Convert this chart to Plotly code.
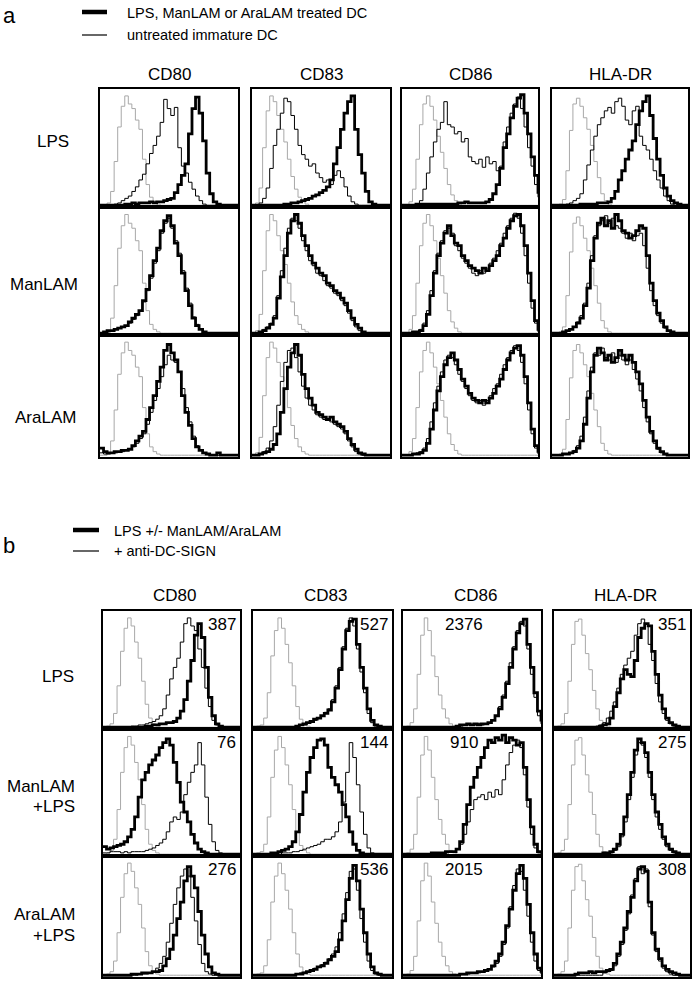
import plotly.graph_objects as go

W, H = 695, 984
NB = 40  # fluorescence channel bins (log scale)


def pad(v):
    return list(v) + [0] * (NB - len(v))


MARKERS = ["CD80", "CD83", "CD86", "HLA-DR"]
ROWS_A = ["LPS", "ManLAM", "AraLAM"]
ROWS_B = [["LPS"], ["ManLAM", "+LPS"], ["AraLAM", "+LPS"]]
NUMS_B = [["387", "527", "2376", "351"],
          ["76", "144", "910", "275"],
          ["276", "536", "2015", "308"]]
LEGEND_A = ["LPS, ManLAM or AraLAM treated DC", "untreated immature DC"]
LEGEND_B = ["LPS +/- ManLAM/AraLAM", "+ anti-DC-SIGN"]

# ---------------- panel a : isotype controls (grey) ----------------
A_G_CD80 = [0, 0, 2, 12, 38, 68, 86, 95, 88, 84, 74, 66, 40, 18, 7, 3, 1]
A_G_CD83 = [0, 2, 15, 50, 82, 95, 90, 78, 66, 55, 40, 25, 14, 7, 3, 1]
A_G_CD86 = [0, 0, 3, 14, 40, 70, 88, 95, 86, 74, 60, 46, 32, 18, 9, 4, 1]
A_G_HLA = [0, 0, 1, 5, 30, 65, 88, 93, 86, 76, 66, 52, 38, 24, 10, 4, 1]

# panel a, LPS row
A_LPS_CD80_thin = [0, 0, 0, 0, 1, 2, 4, 6, 8, 12, 16, 22, 27, 36, 45, 52, 60, 72, 92, 84, 78, 85, 50, 34, 28, 20, 14, 8, 4, 1]
A_LPS_CD80_thick = [0, 0, 0, 0, 0, 0, 0, 1, 1, 2, 1, 2, 2, 2, 3, 2, 3, 3, 4, 5, 6, 11, 18, 26, 36, 62, 84, 94, 80, 56, 28, 10, 3, 1]
A_LPS_CD83_thin = [0, 0, 2, 6, 15, 32, 52, 66, 80, 93, 90, 78, 66, 52, 44, 40, 34, 36, 28, 24, 20, 22, 18, 26, 30, 24, 16, 8, 3, 1]
A_LPS_CD83_thick = [0, 0, 0, 0, 0, 0, 0, 0, 0, 1, 1, 2, 2, 3, 4, 5, 6, 8, 9, 11, 13, 16, 22, 36, 50, 66, 80, 90, 95, 66, 44, 28, 12, 3, 1]
A_LPS_CD86_thin = [0, 0, 0, 0, 1, 4, 14, 28, 42, 55, 66, 72, 90, 70, 68, 62, 64, 55, 58, 42, 38, 36, 40, 33, 42, 36, 38, 30, 34, 55, 68, 80, 88, 94, 84, 68, 50, 34, 18, 7]
A_LPS_CD86_thick = [0, 0, 0, 0, 1, 1, 1, 1, 1, 1, 1, 1, 1, 1, 1, 1, 2, 2, 3, 2, 2, 2, 2, 2, 3, 5, 10, 18, 32, 50, 62, 76, 86, 93, 96, 80, 62, 42, 26, 10]
A_LPS_HLA_thin = [0, 0, 0, 0, 1, 2, 4, 6, 10, 22, 35, 48, 60, 70, 76, 82, 85, 80, 90, 93, 86, 74, 70, 82, 86, 60, 52, 48, 40, 30, 22, 15, 8, 4, 1]
A_LPS_HLA_thick = [0, 0, 0, 0, 0, 0, 0, 0, 1, 1, 1, 1, 1, 2, 2, 2, 3, 6, 12, 22, 30, 40, 48, 56, 70, 82, 90, 95, 78, 58, 40, 26, 15, 8, 4, 2, 1]

# panel a, ManLAM row
A_MAN_CD80_thin = [0, 0, 1, 2, 3, 4, 5, 6, 8, 11, 14, 18, 25, 34, 44, 56, 66, 80, 88, 92, 84, 74, 64, 50, 36, 24, 13, 7, 3, 1]
A_MAN_CD80_thick = [0, 1, 2, 2, 3, 4, 5, 6, 9, 12, 15, 18, 26, 35, 46, 58, 68, 82, 90, 94, 86, 72, 62, 48, 34, 22, 12, 6, 3, 1]
A_MAN_CD83_thin = [0, 0, 1, 3, 5, 8, 14, 30, 50, 68, 84, 92, 90, 84, 74, 66, 58, 54, 48, 46, 42, 38, 36, 32, 30, 26, 22, 16, 10, 5, 2, 1]
A_MAN_CD83_thick = [0, 0, 1, 2, 4, 7, 12, 28, 45, 62, 80, 90, 95, 88, 78, 70, 62, 56, 52, 48, 46, 40, 38, 34, 32, 28, 24, 18, 12, 7, 4, 1]
A_MAN_CD86_thin = [0, 0, 0, 1, 1, 3, 8, 18, 34, 50, 64, 74, 82, 84, 80, 70, 66, 60, 56, 52, 48, 46, 50, 48, 52, 56, 60, 66, 72, 80, 86, 92, 96, 92, 80, 62, 40, 20, 8, 1]
A_MAN_CD86_thick = [0, 0, 0, 1, 1, 2, 6, 15, 30, 48, 62, 72, 80, 86, 78, 72, 70, 62, 58, 54, 52, 50, 48, 52, 50, 54, 58, 62, 70, 76, 84, 90, 94, 95, 86, 70, 48, 26, 10, 2]
A_MAN_HLA_thin = [0, 0, 0, 1, 2, 3, 5, 9, 14, 24, 40, 62, 78, 86, 90, 94, 88, 92, 86, 84, 80, 76, 80, 74, 78, 80, 70, 52, 34, 22, 14, 8, 4, 2, 1]
A_MAN_HLA_thick = [0, 0, 0, 1, 2, 3, 5, 8, 12, 22, 36, 58, 76, 88, 92, 86, 90, 84, 95, 90, 82, 80, 76, 78, 82, 86, 84, 62, 40, 26, 16, 10, 5, 2, 1]

# panel a, AraLAM row
A_ARA_CD80_thin = [2, 1, 1, 2, 2, 3, 3, 4, 5, 7, 10, 14, 18, 26, 36, 46, 56, 66, 76, 84, 80, 78, 70, 56, 40, 28, 16, 8, 4, 2, 1]
A_ARA_CD80_thick = [6, 3, 2, 2, 3, 3, 4, 4, 5, 8, 12, 16, 20, 30, 40, 50, 62, 74, 88, 93, 86, 80, 70, 50, 36, 25, 14, 7, 4, 2, 1, 0, 0, 2]
A_ARA_CD83_thin = [0, 0, 1, 3, 6, 12, 24, 42, 62, 78, 88, 90, 82, 70, 58, 48, 42, 38, 34, 32, 30, 30, 28, 26, 24, 22, 18, 12, 7, 3, 1]
A_ARA_CD83_thick = [0, 0, 1, 2, 3, 5, 9, 18, 36, 56, 74, 86, 93, 84, 68, 56, 48, 42, 36, 34, 32, 30, 32, 28, 26, 24, 20, 14, 9, 5, 2, 1]
A_ARA_CD86_thin = [0, 0, 0, 1, 2, 3, 6, 14, 28, 44, 58, 70, 80, 84, 82, 76, 68, 62, 56, 50, 46, 44, 46, 42, 46, 50, 56, 60, 68, 76, 82, 88, 92, 88, 78, 60, 38, 18, 6, 1]
A_ARA_CD86_thick = [0, 0, 0, 1, 1, 2, 4, 10, 22, 38, 54, 66, 76, 82, 86, 80, 72, 64, 58, 52, 48, 46, 44, 46, 44, 48, 52, 58, 64, 72, 80, 86, 90, 92, 84, 66, 44, 22, 8, 2]
A_ARA_HLA_thin = [0, 0, 0, 1, 1, 2, 4, 8, 16, 32, 54, 74, 86, 84, 90, 82, 80, 86, 78, 84, 80, 76, 80, 72, 64, 54, 40, 28, 18, 10, 5, 2, 1]
A_ARA_HLA_thick = [0, 0, 0, 1, 1, 2, 3, 6, 12, 26, 48, 70, 84, 90, 86, 80, 84, 78, 82, 88, 84, 80, 84, 78, 70, 60, 46, 32, 20, 12, 6, 3, 1]

# ---------------- panel b : isotype controls (grey) ----------------
B_G_CD80 = [0, 1, 3, 12, 36, 66, 86, 95, 88, 74, 60, 40, 20, 8, 3, 1]
B_G_CD83 = [0, 1, 2, 8, 30, 62, 84, 95, 86, 72, 56, 36, 18, 7, 3, 1]
B_G_CD86 = [0, 1, 4, 16, 46, 80, 95, 84, 62, 44, 28, 16, 8, 3, 1]
B_G_HLA = [0, 1, 3, 12, 40, 72, 92, 94, 80, 64, 50, 32, 16, 6, 2, 1]

# panel b, LPS row
B_LPS_CD80_thin = [0, 0, 0, 0, 0, 0, 0, 0, 1, 1, 2, 2, 3, 4, 5, 7, 10, 16, 28, 42, 52, 60, 74, 90, 95, 88, 84, 68, 52, 34, 18, 6, 2, 1]
B_LPS_CD80_thick = [0, 0, 0, 0, 0, 0, 0, 0, 0, 0, 0, 0, 1, 1, 2, 2, 3, 3, 4, 4, 5, 8, 14, 24, 40, 58, 80, 90, 78, 52, 26, 10, 3, 1]
B_LPS_CD83_thin = [0, 0, 0, 0, 0, 0, 0, 0, 0, 0, 0, 0, 1, 2, 2, 4, 5, 6, 8, 10, 13, 16, 24, 36, 52, 70, 86, 95, 88, 68, 48, 30, 12, 4, 1]
B_LPS_CD83_thick = [0, 0, 0, 0, 0, 0, 0, 0, 0, 0, 0, 0, 1, 2, 3, 4, 5, 7, 8, 10, 12, 15, 22, 34, 50, 68, 84, 92, 94, 72, 52, 34, 16, 6, 2, 1]
B_LPS_CD86_thin = [0, 0, 0, 0, 0, 0, 0, 0, 0, 0, 0, 0, 0, 0, 0, 1, 1, 2, 2, 2, 2, 3, 2, 3, 4, 6, 10, 18, 28, 40, 56, 70, 84, 92, 88, 68, 46, 26, 10, 3]
B_LPS_CD86_thick = [0, 0, 0, 0, 0, 0, 0, 0, 0, 0, 0, 0, 0, 0, 0, 1, 2, 2, 3, 2, 3, 2, 3, 3, 4, 6, 10, 16, 26, 38, 52, 68, 82, 90, 94, 72, 52, 30, 14, 5]
B_LPS_HLA_thin = [0, 0, 0, 0, 0, 0, 0, 0, 0, 0, 0, 0, 1, 2, 4, 8, 14, 22, 34, 46, 54, 60, 66, 80, 90, 94, 90, 72, 58, 38, 22, 12, 6, 3, 1]
B_LPS_HLA_thick = [0, 0, 0, 0, 0, 0, 0, 0, 0, 0, 0, 0, 0, 1, 2, 3, 8, 18, 30, 42, 50, 46, 44, 58, 78, 86, 90, 88, 66, 46, 28, 16, 8, 4, 2, 1]

# panel b, ManLAM + LPS row
B_MAN_CD80_thin = [1, 1, 2, 2, 2, 1, 2, 1, 2, 2, 2, 2, 3, 4, 5, 7, 9, 12, 18, 26, 30, 28, 34, 48, 58, 66, 72, 90, 72, 46, 24, 10, 3, 1]
B_MAN_CD80_thick = [6, 4, 5, 6, 7, 8, 10, 14, 20, 30, 46, 60, 66, 72, 76, 80, 86, 90, 93, 88, 74, 58, 42, 34, 26, 16, 9, 4, 2, 1]
B_MAN_CD83_thin = [0, 0, 0, 0, 0, 0, 0, 0, 1, 1, 1, 2, 2, 3, 4, 5, 6, 7, 8, 10, 12, 12, 14, 18, 26, 42, 66, 90, 78, 56, 34, 16, 5, 1]
B_MAN_CD83_thick = [0, 0, 0, 0, 0, 1, 1, 2, 3, 4, 6, 10, 18, 32, 50, 66, 78, 86, 92, 93, 88, 70, 62, 56, 50, 40, 30, 18, 8, 3, 1]
B_MAN_CD86_thin = [0, 0, 0, 0, 0, 0, 0, 0, 0, 0, 0, 1, 1, 2, 2, 4, 8, 16, 26, 36, 44, 46, 48, 44, 50, 46, 52, 48, 60, 72, 82, 88, 92, 86, 64, 38, 16, 5, 1, 0]
B_MAN_CD86_thick = [0, 0, 0, 0, 0, 0, 0, 0, 1, 1, 1, 1, 2, 2, 2, 4, 10, 24, 40, 54, 62, 70, 78, 86, 92, 90, 94, 92, 96, 90, 94, 92, 88, 90, 70, 44, 22, 8, 2, 1]
B_MAN_HLA_thin = [0, 0, 0, 0, 0, 0, 0, 0, 0, 0, 0, 0, 0, 0, 0, 0, 1, 3, 6, 14, 26, 44, 62, 80, 90, 88, 78, 62, 44, 30, 20, 12, 6, 3, 1]
B_MAN_HLA_thick = [0, 0, 0, 0, 0, 0, 0, 0, 0, 0, 0, 0, 0, 0, 1, 1, 2, 4, 8, 16, 30, 48, 66, 84, 93, 90, 82, 66, 48, 34, 24, 14, 8, 4, 2, 1]

# panel b, AraLAM + LPS row
B_ARA_CD80_thin = [0, 0, 0, 0, 0, 0, 0, 0, 0, 0, 1, 1, 1, 2, 3, 6, 10, 16, 28, 44, 60, 74, 84, 90, 84, 66, 46, 26, 10, 3, 1]
B_ARA_CD80_thick = [0, 0, 0, 0, 0, 0, 0, 0, 1, 1, 1, 2, 2, 2, 3, 3, 4, 8, 14, 22, 34, 48, 62, 80, 92, 84, 74, 54, 34, 18, 7, 2, 1]
B_ARA_CD83_thin = [0, 0, 0, 0, 0, 0, 0, 0, 0, 0, 0, 0, 1, 2, 2, 3, 4, 6, 7, 9, 11, 14, 18, 24, 36, 52, 70, 88, 90, 72, 48, 28, 12, 4, 1]
B_ARA_CD83_thick = [0, 0, 0, 0, 0, 0, 0, 0, 0, 0, 0, 0, 1, 1, 2, 3, 4, 5, 7, 8, 10, 13, 16, 20, 30, 46, 64, 82, 93, 80, 56, 36, 18, 7, 2, 1]
B_ARA_CD86_thin = [0, 0, 0, 0, 0, 0, 0, 0, 0, 0, 0, 0, 0, 0, 0, 0, 1, 1, 1, 2, 2, 2, 3, 4, 5, 7, 10, 16, 26, 40, 58, 76, 90, 88, 72, 50, 28, 12, 4, 1]
B_ARA_CD86_thick = [0, 0, 0, 0, 0, 0, 0, 0, 0, 0, 0, 0, 0, 0, 0, 0, 1, 1, 2, 2, 2, 3, 3, 4, 5, 8, 12, 18, 28, 42, 56, 72, 86, 93, 82, 60, 36, 18, 6, 2]
B_ARA_HLA_thin = [0, 0, 0, 0, 0, 0, 0, 0, 0, 0, 0, 0, 0, 0, 2, 3, 4, 8, 16, 26, 38, 52, 68, 82, 92, 86, 90, 58, 34, 20, 12, 6, 3, 1]
B_ARA_HLA_thick = [0, 0, 0, 0, 0, 0, 1, 2, 2, 2, 3, 2, 3, 3, 3, 4, 5, 10, 18, 28, 40, 54, 66, 80, 90, 92, 88, 62, 36, 22, 14, 8, 5, 3, 2, 1]

A_GRAY = [A_G_CD80, A_G_CD83, A_G_CD86, A_G_HLA]
A_THIN = [[A_LPS_CD80_thin, A_LPS_CD83_thin, A_LPS_CD86_thin, A_LPS_HLA_thin],
          [A_MAN_CD80_thin, A_MAN_CD83_thin, A_MAN_CD86_thin, A_MAN_HLA_thin],
          [A_ARA_CD80_thin, A_ARA_CD83_thin, A_ARA_CD86_thin, A_ARA_HLA_thin]]
A_THICK = [[A_LPS_CD80_thick, A_LPS_CD83_thick, A_LPS_CD86_thick, A_LPS_HLA_thick],
           [A_MAN_CD80_thick, A_MAN_CD83_thick, A_MAN_CD86_thick, A_MAN_HLA_thick],
           [A_ARA_CD80_thick, A_ARA_CD83_thick, A_ARA_CD86_thick, A_ARA_HLA_thick]]
B_GRAY = [B_G_CD80, B_G_CD83, B_G_CD86, B_G_HLA]
B_THIN = [[B_LPS_CD80_thin, B_LPS_CD83_thin, B_LPS_CD86_thin, B_LPS_HLA_thin],
          [B_MAN_CD80_thin, B_MAN_CD83_thin, B_MAN_CD86_thin, B_MAN_HLA_thin],
          [B_ARA_CD80_thin, B_ARA_CD83_thin, B_ARA_CD86_thin, B_ARA_HLA_thin]]
B_THICK = [[B_LPS_CD80_thick, B_LPS_CD83_thick, B_LPS_CD86_thick, B_LPS_HLA_thick],
           [B_MAN_CD80_thick, B_MAN_CD83_thick, B_MAN_CD86_thick, B_MAN_HLA_thick],
           [B_ARA_CD80_thick, B_ARA_CD83_thick, B_ARA_CD86_thick, B_ARA_HLA_thick]]

# ---------------- layout geometry (pixels) ----------------
COLS_A = [(100, 238), (252, 390), (402, 538), (552, 688)]
ROWS_A_PX = [(89, 207), (207, 335), (335, 457)]
COLS_B = [(103, 240), (253, 392), (403, 541), (554, 690)]
ROWS_B_PX = [(611, 729), (729, 856), (856, 977)]

FONT = "Liberation Sans, Arial, Helvetica, sans-serif"
GREY = "#a8a8a8"

fig = go.Figure()
layout = {}
annotations = []
shapes = []
X = list(range(NB))
k = 0


def px_x(x):
    return x / W


def px_y(y):
    return 1 - y / H


def add_panel(cols, rows, gray, thin, thick, nums=None):
    global k
    for r, (y0, y1) in enumerate(rows):
        for c, (x0, x1) in enumerate(cols):
            k += 1
            xa = "x" if k == 1 else f"x{k}"
            ya = "y" if k == 1 else f"y{k}"
            for vals, color, width in ((gray[c], GREY, 1.0),
                                       (thin[r][c], "black", 1.0),
                                       (thick[r][c], "black", 2.8)):
                fig.add_trace(go.Scatter(
                    x=X, y=pad(vals), mode="lines",
                    line=dict(color=color, width=width, shape="hv"),
                    xaxis=xa, yaxis=ya, hoverinfo="skip", showlegend=False))
            ax = dict(domain=[px_x(x0), px_x(x1)], range=[0, NB - 1],
                      showline=True, mirror=True, linecolor="black", linewidth=1.5,
                      showgrid=False, zeroline=False, showticklabels=False, ticks="",
                      fixedrange=True)
            ay = dict(domain=[px_y(y1), px_y(y0)], range=[-1.5, 101],
                      showline=True, mirror=True, linecolor="black", linewidth=1.5,
                      showgrid=False, zeroline=False, showticklabels=False, ticks="",
                      fixedrange=True)
            layout["xaxis" if k == 1 else f"xaxis{k}"] = dict(ax, anchor=ya)
            layout["yaxis" if k == 1 else f"yaxis{k}"] = dict(ay, anchor=xa)
            if nums is not None:
                if c == 2:
                    xpos, xanc = 0.44, "center"
                else:
                    xpos, xanc = 0.985, "right"
                annotations.append(dict(
                    text=nums[r][c], x=xpos, y=0.985, xref=f"{xa} domain",
                    yref=f"{ya} domain", xanchor=xanc, yanchor="top",
                    showarrow=False, font=dict(size=17, color="black", family=FONT)))


add_panel(COLS_A, ROWS_A_PX, A_GRAY, A_THIN, A_THICK)
add_panel(COLS_B, ROWS_B_PX, B_GRAY, B_THIN, B_THICK, NUMS_B)


def text(t, x, y, size=17, xanchor="center"):
    annotations.append(dict(text=t, x=px_x(x), y=px_y(y), xref="paper", yref="paper",
                            xanchor=xanchor, yanchor="middle", showarrow=False,
                            font=dict(size=size, color="black", family=FONT)))


# column headers
for c, (x0, x1) in enumerate(COLS_A):
    text(MARKERS[c], (x0 + x1) / 2, 75)
for c, (x0, x1) in enumerate(COLS_B):
    text(MARKERS[c], (x0 + x1) / 2 + 3, 595)

# row labels
for lab, cx, cy in zip(ROWS_A, [53, 44, 45], [142, 285, 417]):
    text(lab, cx, cy)
text(ROWS_B[0][0], 76, 676, xanchor="right")
text(ROWS_B[1][0], 77, 786, xanchor="right")
text(ROWS_B[1][1], 77, 806, xanchor="right")
text(ROWS_B[2][0], 77, 914, xanchor="right")
text(ROWS_B[2][1], 77, 935, xanchor="right")

# panel letters
text("a", 9, 15, size=22)
text("b", 9, 545, size=22)

# legends
text(LEGEND_A[0], 125, 13, size=14.5, xanchor="left")
text(LEGEND_A[1], 125, 35, size=14.5, xanchor="left")
text(LEGEND_B[0], 112, 531, size=14.5, xanchor="left")
text(LEGEND_B[1], 112, 551, size=14.5, xanchor="left")
for (x0, x1, y, w) in [(82, 107, 12, 4.5), (82, 107, 35, 1.2),
                       (73, 99, 530, 4.5), (73, 99, 551, 1.2)]:
    shapes.append(dict(type="line", xref="paper", yref="paper",
                       x0=px_x(x0), x1=px_x(x1), y0=px_y(y), y1=px_y(y),
                       line=dict(color="black", width=w)))

fig.update_layout(**layout)
fig.update_layout(width=W, height=H, margin=dict(l=0, r=0, t=0, b=0),
                  paper_bgcolor="white", plot_bgcolor="white",
                  showlegend=False, annotations=annotations, shapes=shapes,
                  font=dict(family=FONT))
fig.write_html("out.html", config={"displayModeBar": False},
               post_script="document.body.style.margin='0';document.body.style.overflow='hidden';")
